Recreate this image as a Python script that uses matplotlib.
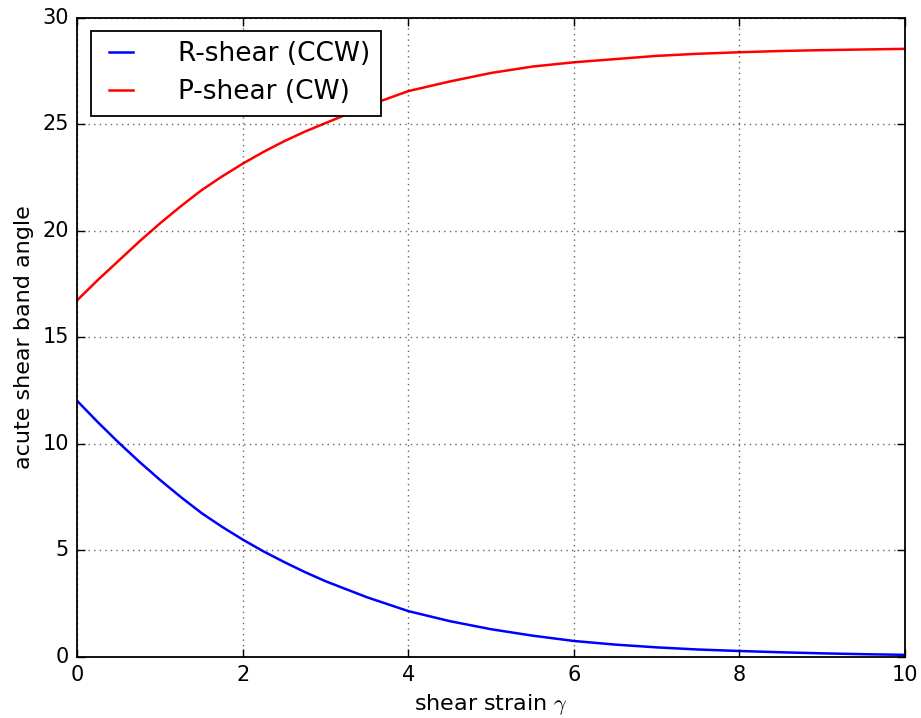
import matplotlib
matplotlib.use("Agg")
import matplotlib.pyplot as plt

gamma = [0, 0.25, 0.5, 0.75, 1, 1.25, 1.5, 1.75, 2, 2.25, 2.5, 2.75, 3, 3.5, 4, 4.5, 5, 5.5,
         6, 6.5, 7, 7.5, 8, 8.5, 9, 9.5, 10]
r_shear = [12.0, 11.0, 10.05, 9.15, 8.3, 7.5, 6.75, 6.1, 5.5, 4.95, 4.45, 3.98, 3.55, 2.8,
           2.15, 1.68, 1.3, 1.0, 0.75, 0.58, 0.45, 0.35, 0.28, 0.22, 0.17, 0.13, 0.10]
p_shear = [16.75, 17.7, 18.6, 19.5, 20.35, 21.15, 21.9, 22.55, 23.15, 23.7, 24.2, 24.65,
           25.05, 25.85, 26.55, 27.0, 27.4, 27.7, 27.9, 28.05, 28.2, 28.3, 28.37, 28.43,
           28.47, 28.5, 28.53]
labels = ["R-shear (CCW)", "P-shear (CW)"]
xticks = [0, 2, 4, 6, 8, 10]
yticks = [0, 5, 10, 15, 20, 25, 30]

plt.style.use("classic")
plt.rcParams["font.family"] = ["DejaVu Sans"]

fig = plt.figure(figsize=(9.21, 7.18), dpi=100, facecolor="white")
ax = fig.add_axes([0.0841, 0.085, 0.8985, 0.8906])
ax.set_facecolor("white")

ax.plot(gamma, r_shear, color="blue", lw=1.8, label=labels[0])
ax.plot(gamma, p_shear, color="red", lw=1.8, label=labels[1])

ax.set_xlim(0, 10)
ax.set_ylim(0, 30)
ax.set_xticks(xticks)
ax.set_yticks(yticks)
ax.tick_params(labelsize=15, direction="in", length=6, width=1, pad=6)
ax.grid(True, color="black", linestyle=":", linewidth=1, alpha=0.6)
for s in ax.spines.values():
    s.set_linewidth(1.3)

ax.set_xlabel(r"shear strain $\gamma$", fontsize=16)
ax.set_ylabel("acute shear band angle", fontsize=16, labelpad=6)

leg = ax.legend(loc="upper left", fontsize=19, handlelength=1.5, handletextpad=1.4,
                borderaxespad=0.5, borderpad=0.4, labelspacing=0.45, fancybox=False)
leg.get_frame().set_linewidth(1.3)
leg.get_frame().set_edgecolor("black")

fig.savefig("out.png", dpi=100, facecolor="white")
